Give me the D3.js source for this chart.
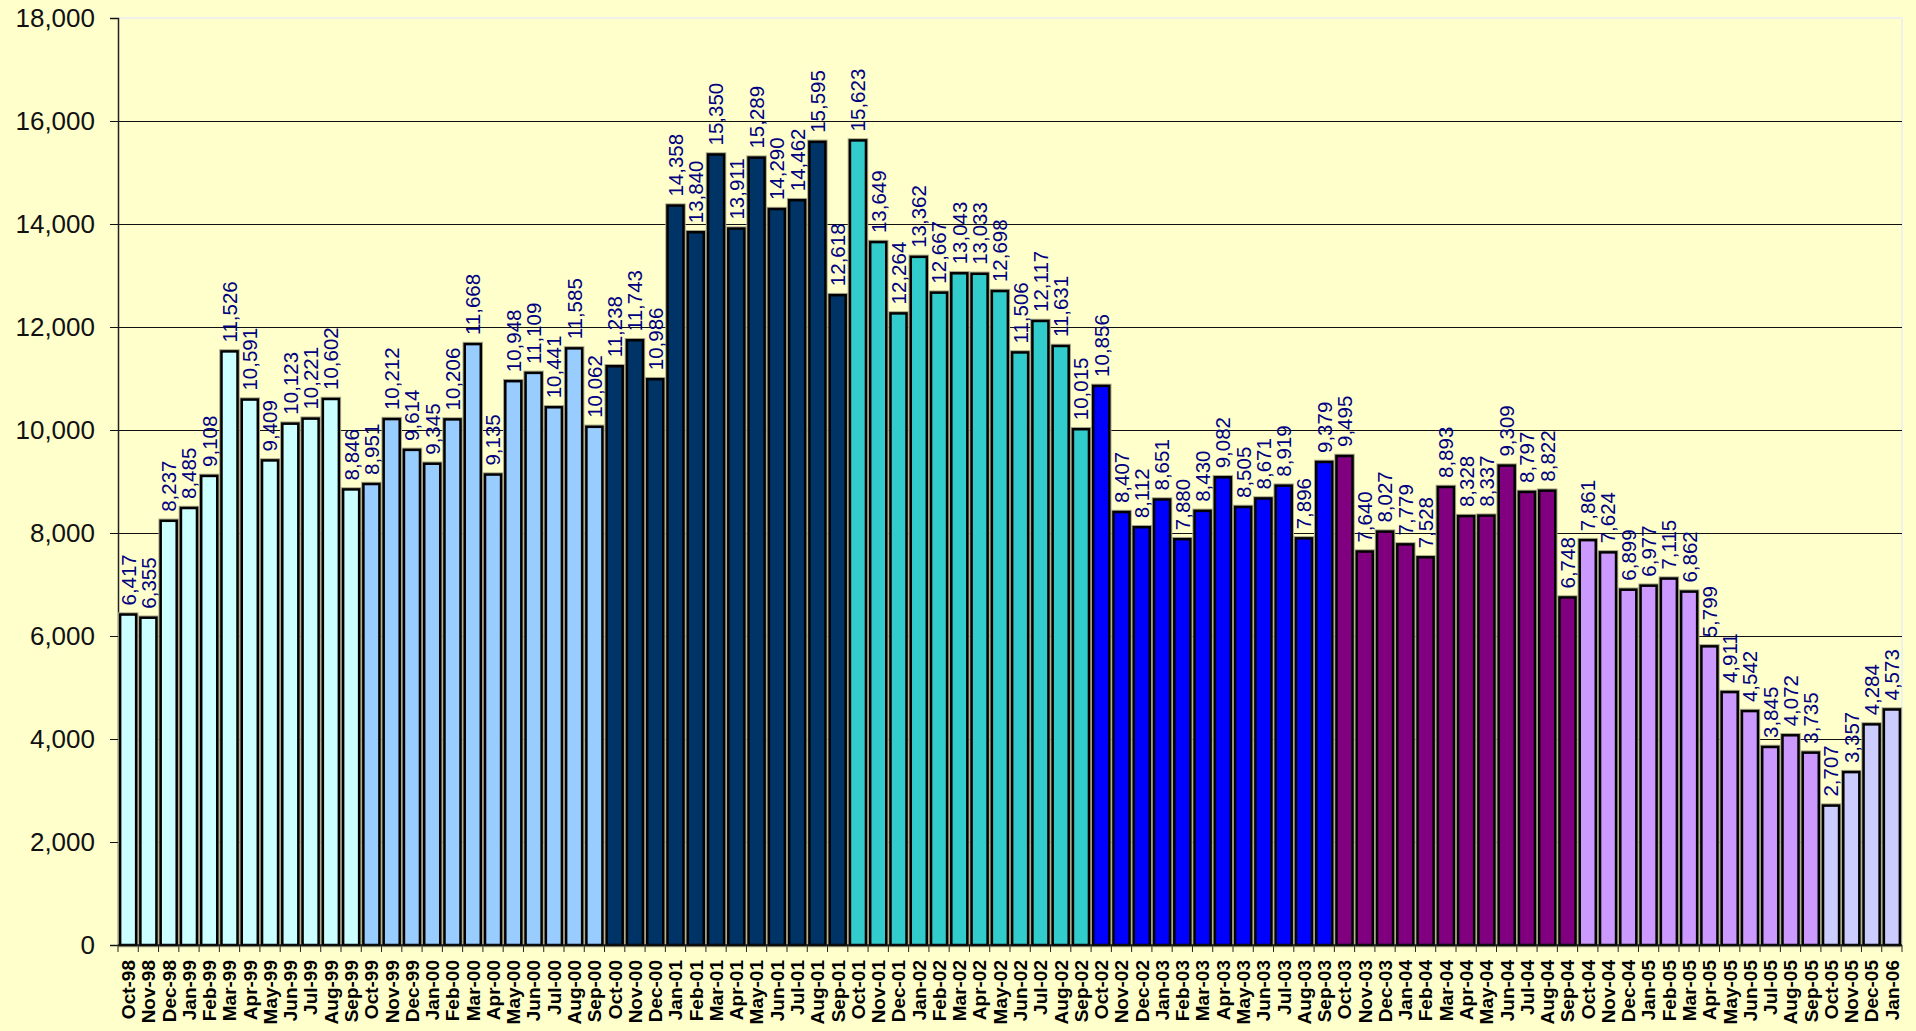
<!DOCTYPE html>
<html>
<head>
<meta charset="utf-8">
<script src="https://cdn.jsdelivr.net/npm/d3@7"></script>
<style>
  body { margin: 0; background: #ffffcc; }
  svg { display: block; }
</style>
</head>
<body>
<div id="chart"></div>
<script>
// months, Oct-98 .. Jan-06
const months = [
  'Oct-98','Nov-98','Dec-98','Jan-99','Feb-99','Mar-99','Apr-99','May-99','Jun-99','Jul-99','Aug-99','Sep-99',
  'Oct-99','Nov-99','Dec-99','Jan-00','Feb-00','Mar-00','Apr-00','May-00','Jun-00','Jul-00','Aug-00','Sep-00',
  'Oct-00','Nov-00','Dec-00','Jan-01','Feb-01','Mar-01','Apr-01','May-01','Jun-01','Jul-01','Aug-01','Sep-01',
  'Oct-01','Nov-01','Dec-01','Jan-02','Feb-02','Mar-02','Apr-02','May-02','Jun-02','Jul-02','Aug-02','Sep-02',
  'Oct-02','Nov-02','Dec-02','Jan-03','Feb-03','Mar-03','Apr-03','May-03','Jun-03','Jul-03','Aug-03','Sep-03',
  'Oct-03','Nov-03','Dec-03','Jan-04','Feb-04','Mar-04','Apr-04','May-04','Jun-04','Jul-04','Aug-04','Sep-04',
  'Oct-04','Nov-04','Dec-04','Jan-05','Feb-05','Mar-05','Apr-05','May-05','Jun-05','Jul-05','Aug-05','Sep-05',
  'Oct-05','Nov-05','Dec-05','Jan-06'
];

const values = [
  6417, 6355, 8237, 8485, 9108, 11526, 10591, 9409, 10123, 10221, 10602, 8846,
  8951, 10212, 9614, 9345, 10206, 11668, 9135, 10948, 11109, 10441, 11585, 10062,
  11238, 11743, 10986, 14358, 13840, 15350, 13911, 15289, 14290, 14462, 15595, 12618,
  15623, 13649, 12264, 13362, 12667, 13043, 13033, 12698, 11506, 12117, 11631, 10015,
  10856, 8407, 8112, 8651, 7880, 8430, 9082, 8505, 8671, 8919, 7896, 9379,
  9495, 7640, 8027, 7779, 7528, 8893, 8328, 8337, 9309, 8797, 8822, 6748,
  7861, 7624, 6899, 6977, 7115, 6862, 5799, 4911, 4542, 3845, 4072, 3735,
  2707, 3357, 4284, 4573
];

// fiscal year (Oct-Sep) each month belongs to
const fiscalYears = ['FY99','FY00','FY01','FY02','FY03','FY04','FY05','FY06'];
const yTicks = [0, 2000, 4000, 6000, 8000, 10000, 12000, 14000, 16000, 18000];

const yearColors = ['#ccffff', '#99ccff', '#003366', '#33cccc', '#0000ff', '#800080', '#cc99ff', '#ccccff'];

const data = months.map((m, i) => ({ month: m, value: values[i], year: fiscalYears[Math.floor(i / 12)] }));

const width = 1916;
const height = 1031;
const plot = { left: 118, right: 1902, top: 18, bottom: 945 };

const svg = d3.select('#chart').append('svg')
    .attr('width', width)
    .attr('height', height);

svg.append('rect')
    .attr('width', width).attr('height', height)
    .attr('fill', '#ffffcc');

const x = d3.scaleBand()
    .domain(months)
    .range([plot.left, plot.right])
    .paddingInner(0.21)
    .paddingOuter(0.105);

const y = d3.scaleLinear()
    .domain([0, 18000])
    .range([plot.bottom, plot.top]);

const color = d3.scaleOrdinal().domain(fiscalYears).range(yearColors);

// plot border (very light) on top / right
svg.append('path')
    .attr('d', `M${plot.left},${plot.top}H${plot.right}V${plot.bottom}`)
    .attr('fill', 'none')
    .attr('stroke', '#ececf6')
    .attr('stroke-width', 1.5);

// gridlines
svg.append('g')
    .selectAll('line')
    .data(yTicks.filter(t => t > 0 && t < 18000))
    .enter().append('line')
    .attr('x1', plot.left).attr('x2', plot.right)
    .attr('y1', d => Math.round(y(d)) + 0.5)
    .attr('y2', d => Math.round(y(d)) + 0.5)
    .attr('stroke', '#111')
    .attr('stroke-width', 1);

// y axis
const yAxis = svg.append('g')
    .attr('transform', 'translate(' + plot.left + ',0)')
    .call(d3.axisLeft(y).tickValues(yTicks).tickSize(8).tickPadding(15).tickFormat(d3.format(',')));
yAxis.select('.domain').attr('stroke', '#222').attr('stroke-width', 1.5);
yAxis.selectAll('.tick line').attr('stroke', '#111');
yAxis.selectAll('.tick text')
    .attr('fill', '#111')
    .style('font-family', 'Arial, "Liberation Sans", sans-serif')
    .style('font-size', '26px');

// bars
const bars = svg.append('g');
bars.selectAll('rect.halo')
    .data(data)
    .enter().append('rect')
    .attr('class', 'halo')
    .attr('x', d => x(d.month))
    .attr('y', d => y(d.value))
    .attr('width', x.bandwidth())
    .attr('height', d => y(0) - y(d.value))
    .attr('fill', 'none')
    .attr('stroke', '#a8a888')
    .attr('stroke-width', 4.5);

bars.selectAll('rect.bar')
    .data(data)
    .enter().append('rect')
    .attr('class', 'bar')
    .attr('x', d => x(d.month))
    .attr('y', d => y(d.value))
    .attr('width', x.bandwidth())
    .attr('height', d => y(0) - y(d.value))
    .attr('fill', d => color(d.year))
    .attr('stroke', '#000')
    .attr('stroke-width', 2.5);

// value labels
svg.append('g')
    .selectAll('text')
    .data(data)
    .enter().append('text')
    .attr('transform', d => 'translate(' + (x(d.month) + x.bandwidth() / 2) + ',' + (y(d.value) - 9) + ') rotate(-90)')
    .attr('dy', '0.36em')
    .attr('fill', '#000080')
    .style('font-family', 'Arial, "Liberation Sans", sans-serif')
    .style('font-size', '20.5px')
    .text(d => d3.format(',')(d.value));

// x axis
const xAxis = svg.append('g')
    .attr('transform', 'translate(0,' + plot.bottom + ')')
    .call(d3.axisBottom(x).tickSize(0));
xAxis.select('.domain').remove();
xAxis.selectAll('.tick text')
    .attr('transform', 'rotate(-90)')
    .attr('x', -15)
    .attr('y', 0)
    .attr('dy', '0.36em')
    .style('text-anchor', 'end')
    .attr('fill', '#000')
    .style('font-family', 'Arial, "Liberation Sans", sans-serif')
    .style('font-weight', 'bold')
    .style('font-size', '19px');

// ticks between categories
const step = x.step();
const edges = months.map(m => x(m) - step * x.paddingInner() / 2);
edges.push(x(months[months.length - 1]) + x.bandwidth() + step * x.paddingInner() / 2);
svg.append('g')
    .selectAll('line')
    .data(edges)
    .enter().append('line')
    .attr('x1', d => d).attr('x2', d => d)
    .attr('y1', plot.bottom).attr('y2', plot.bottom + 7)
    .attr('stroke', '#222')
    .attr('stroke-width', 1);

svg.append('line')
    .attr('x1', plot.left).attr('x2', plot.right)
    .attr('y1', plot.bottom).attr('y2', plot.bottom)
    .attr('stroke', '#111')
    .attr('stroke-width', 1.5);
</script>
</body>
</html>
